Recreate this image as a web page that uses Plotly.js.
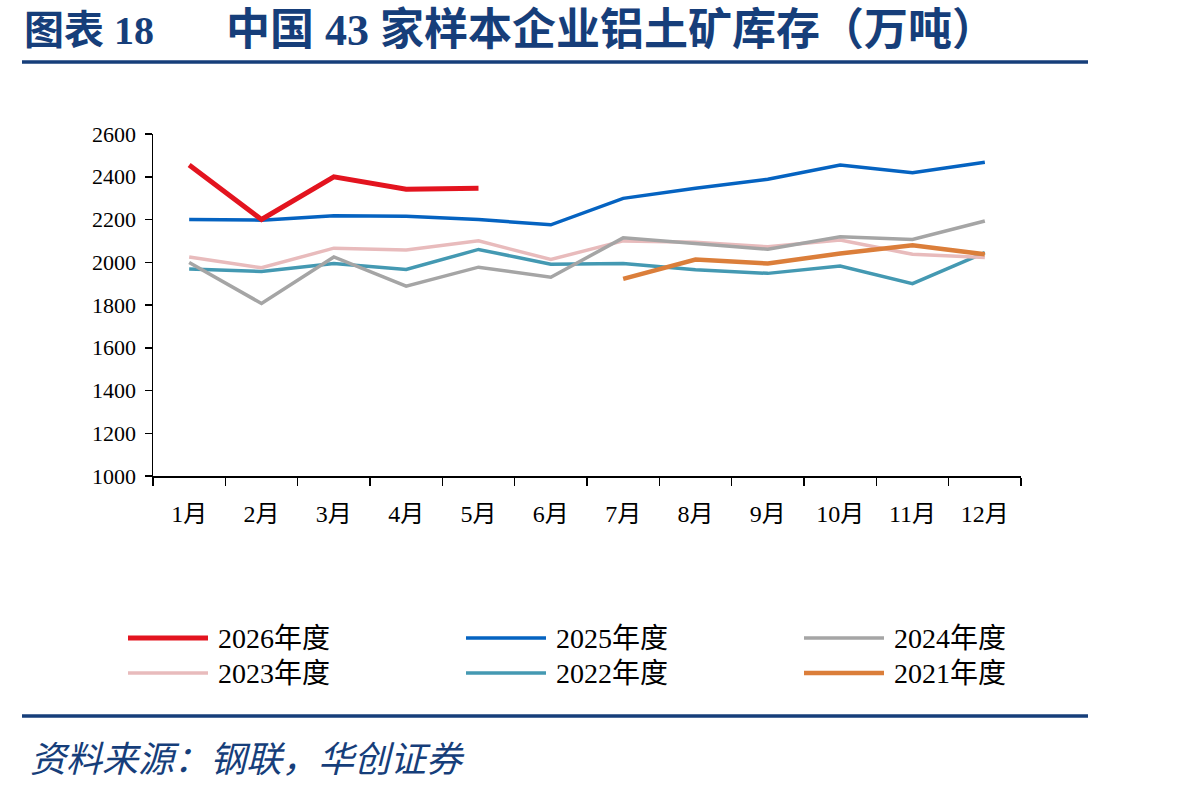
<!DOCTYPE html>
<html>
<head>
<meta charset="utf-8">
<script src="https://cdn.plot.ly/plotly-3.0.1.min.js"></script>
<style>
  html, body { margin: 0; padding: 0; background: #ffffff; }
  #chart { width: 1198px; height: 792px; }
</style>
</head>
<body>
<div id="chart"></div>
<script>
// Months on the category axis
const months = ['1月', '2月', '3月', '4月', '5月', '6月', '7月', '8月', '9月', '10月', '11月', '12月'];

// Bauxite inventory of 43 sample enterprises, 10k tonnes
const y2026 = [2455, 2200, 2400, 2342, 2346, null, null, null, null, null, null, null];
const y2025 = [2200, 2197, 2218, 2215, 2200, 2175, 2299, 2346, 2388, 2455, 2419, 2468];
const y2024 = [1999, 1807, 2025, 1888, 1977, 1930, 2114, 2088, 2061, 2119, 2107, 2193];
const y2023 = [2025, 1974, 2066, 2057, 2100, 2013, 2100, 2094, 2072, 2104, 2037, 2022];
const y2022 = [1969, 1957, 1994, 1966, 2060, 1991, 1994, 1965, 1948, 1982, 1900, 2045];
const y2021 = [null, null, null, null, null, null, 1922, 2013, 1994, 2041, 2079, 2037];

const seriesNames = ['2026年度', '2025年度', '2024年度', '2023年度', '2022年度', '2021年度'];
const seriesData = [y2026, y2025, y2024, y2023, y2022, y2021];
const seriesColors = ['#E3141F', '#0563C1', '#A5A5A5', '#E8BBBC', '#4499B2', '#DB7E3A'];
const seriesWidths = [5, 3.5, 3.5, 3.5, 3.5, 4.5];

// Plot area in page pixels
const W = 1198, H = 792;
const PL = 153, PR = 1021, PT = 134, PB = 476;
const px = x => (x - PL) / (PR - PL);
const py = y => (PB - y) / (PB - PT);

const NAVY = '#163E7A';
const SERIF = 'Liberation Serif, Noto Sans CJK SC, serif';

// Draw older years first so the current year sits on top
const order = [4, 3, 2, 5, 1, 0];
const traces = order.map(i => ({
  type: 'scatter',
  mode: 'lines',
  x: months,
  y: seriesData[i],
  name: seriesNames[i],
  line: { color: seriesColors[i], width: seriesWidths[i] },
  connectgaps: false,
  hoverinfo: 'skip',
  showlegend: false
}));

const shapes = [
  // rule under the heading
  { type: 'line', xref: 'paper', yref: 'paper', x0: px(22), x1: px(1088), y0: py(62), y1: py(62),
    line: { color: NAVY, width: 3.5 } },
  // rule above the source note
  { type: 'line', xref: 'paper', yref: 'paper', x0: px(22), x1: px(1088), y0: py(716), y1: py(716),
    line: { color: NAVY, width: 3.5 } }
];

const annotations = [
  { text: '<b>图表 18</b>', xref: 'paper', yref: 'paper', x: px(22), y: py(30),
    xanchor: 'left', yanchor: 'middle', showarrow: false,
    font: { family: SERIF, size: 40, color: NAVY } },
  { text: '<b>中国 43 家样本企业铝土矿库存（万吨）</b>', xref: 'paper', yref: 'paper', x: px(224), y: py(30),
    xanchor: 'left', yanchor: 'middle', showarrow: false,
    font: { family: SERIF, size: 44, color: NAVY } },
  { text: '资料来源：钢联，华创证券', xref: 'paper', yref: 'paper', x: px(28), y: py(760),
    xanchor: 'left', yanchor: 'middle', showarrow: false,
    font: { family: SERIF, size: 36, color: NAVY, style: 'italic' } }
];

// Legend: three columns, two rows
const legCols = [126, 464, 802];
const legRows = [638, 673];
seriesNames.forEach((name, i) => {
  const c = legCols[i % 3], r = legRows[Math.floor(i / 3)];
  shapes.push({ type: 'line', xref: 'paper', yref: 'paper',
    x0: px(c + 2), x1: px(c + 82), y0: py(r), y1: py(r),
    line: { color: seriesColors[i], width: seriesWidths[i] } });
  annotations.push({ text: name, xref: 'paper', yref: 'paper', x: px(c + 90), y: py(r),
    xanchor: 'left', yanchor: 'middle', showarrow: false,
    font: { family: SERIF, size: 28, color: '#000000' } });
});

const layout = {
  width: W, height: H,
  margin: { l: PL, r: W - PR, t: PT, b: H - PB, pad: 0 },
  paper_bgcolor: '#ffffff', plot_bgcolor: '#ffffff',
  showlegend: false,
  xaxis: {
    type: 'category', range: [-0.5, 11.5],
    showline: true, linecolor: '#000000', linewidth: 1.5,
    ticks: 'outside', ticklen: 8, tickwidth: 1.5, tickcolor: '#000000',
    tickmode: 'array', tickvals: [-0.5, 0.5, 1.5, 2.5, 3.5, 4.5, 5.5, 6.5, 7.5, 8.5, 9.5, 10.5, 11.5],
    ticktext: ['', '', '', '', '', '', '', '', '', '', '', '', ''],
    showgrid: false, zeroline: false, fixedrange: true
  },
  xaxis2: {
    overlaying: 'x', type: 'category', range: [-0.5, 11.5], anchor: 'y',
    side: 'bottom', showline: false, ticks: '', showgrid: false, zeroline: false,
    tickfont: { family: SERIF, size: 24, color: '#000000' }, ticklabelstandoff: 21
  },
  yaxis: {
    range: [1000, 2600], tickvals: [1000, 1200, 1400, 1600, 1800, 2000, 2200, 2400, 2600],
    showline: true, linecolor: '#000000', linewidth: 1.5,
    ticks: 'outside', ticklen: 7, tickwidth: 1.5, tickcolor: '#000000',
    tickfont: { family: SERIF, size: 22, color: '#000000' }, ticklabelstandoff: 4,
    showgrid: false, zeroline: false, fixedrange: true
  },
  shapes: shapes,
  annotations: annotations
};

// invisible trace carrying the month labels on the second x axis
traces.push({ type: 'scatter', mode: 'lines', x: months, y: y2025, xaxis: 'x2',
  line: { width: 0, color: 'rgba(0,0,0,0)' }, hoverinfo: 'skip', showlegend: false });

Plotly.newPlot('chart', traces, layout, { displayModeBar: false, staticPlot: true });
</script>
</body>
</html>
